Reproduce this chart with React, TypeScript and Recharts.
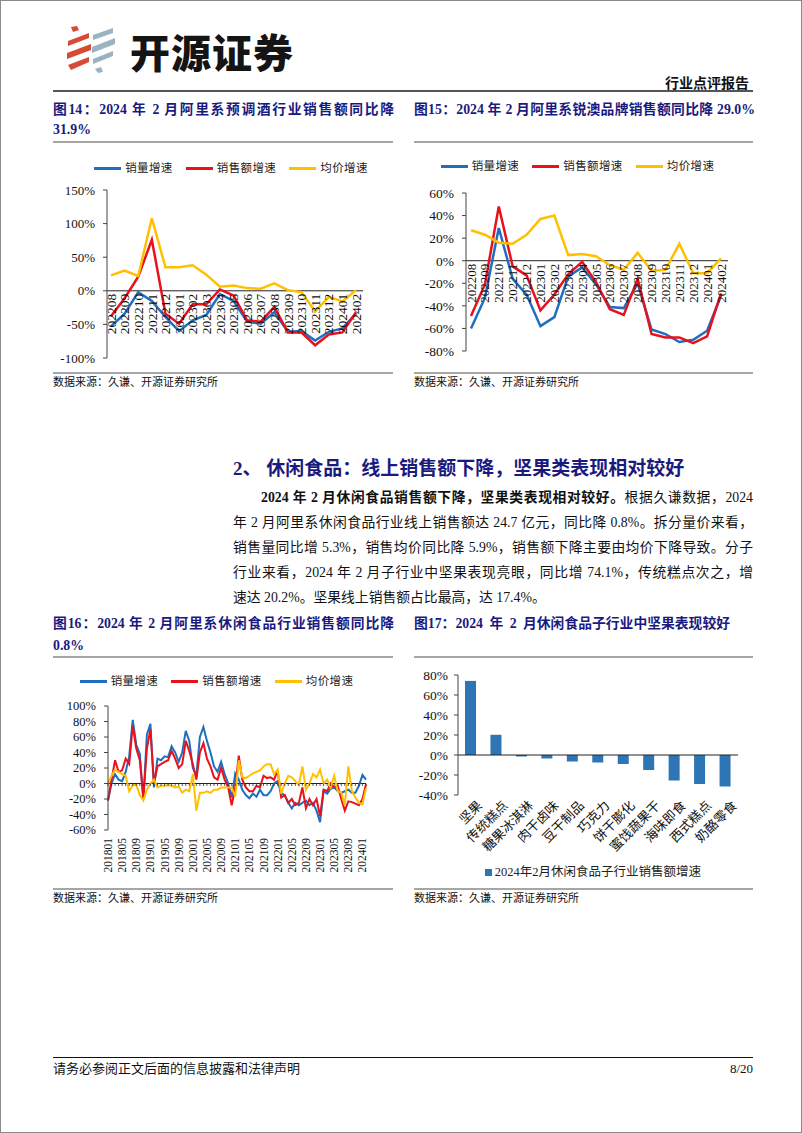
import React from 'react';
import { LineChart, Line, XAxis, YAxis, ReferenceLine, Legend, BarChart, Bar } from 'recharts';

const FONT = '"Liberation Serif", "Noto Sans CJK SC", serif';
const NAVY = '#1a1a7e';
const BLUE = '#1f6fbf';
const RED = '#e8111c';
const YELLOW = '#ffc000';
const BAR = '#2e75b6';

// ---------- Fig 14 ----------
const months14 = ['202208','202209','202210','202211','202212','202301','202302','202303','202304','202305','202306','202307','202308','202309','202310','202311','202312','202401','202402'];
const vol14 = [-53,-34,-2,-15,-39,-60,-44,-36,-5,-15,-46,-49,-32,-61,-60,-74,-61,-56,-34];
const sales14 = [-38,-11,21,76,-34,-49,-20,-20,2,-7,-44,-46,-24,-62,-62,-81,-65,-62,-32];
const price14 = [23,30,22,108,35,35,38,24,6,8,4,3,11,1,-2,-31,-9,-16,1];
const ticks14 = [-100,-50,0,50,100,150];

// ---------- Fig 15 ----------
const months15 = months14;
const vol15 = [-60,-33,29,-16,-30,-58,-50,-14,-6,-21,-41,-42,-20,-61,-65,-72,-70,-62,-31];
const sales15 = [-49,-21,48,-5,-13,-44,-30,-12,-1,-19,-43,-48,-16,-65,-68,-68,-73,-67,-29];
const price15 = [27,23,16,15,23,37,40,5,6,4,-4,-8,7,-9,-8,15,-11,-11,2];
const ticks15 = [-80,-60,-40,-20,0,20,40,60];

// ---------- Fig 16 ----------
const months16 = [
  '201801','201802','201803','201804','201805','201806','201807','201808','201809','201810','201811','201812',
  '201901','201902','201903','201904','201905','201906','201907','201908','201909','201910','201911','201912',
  '202001','202002','202003','202004','202005','202006','202007','202008','202009','202010','202011','202012',
  '202101','202102','202103','202104','202105','202106','202107','202108','202109','202110','202111','202112',
  '202201','202202','202203','202204','202205','202206','202207','202208','202209','202210','202211','202212',
  '202301','202302','202303','202304','202305','202306','202307','202308','202309','202310','202311','202312',
  '202401','202402'];
const vol16 = [-22,0,12,5,3,15,35,82,50,38,-20,63,77,-5,32,30,35,34,48,40,28,40,68,55,20,10,60,73,55,40,22,15,28,12,0,-18,13,5,-8,-15,-19,-13,-17,-8,-15,-15,-10,0,3,-12,-15,-25,-32,-25,-28,-25,-22,-28,-25,-35,-50,-10,-13,-7,-5,-10,-12,-10,-8,-12,-12,-3,11,5];
const sales16 = [-22,5,30,15,17,32,25,75,45,30,-20,45,70,0,22,25,28,30,42,32,20,25,55,42,25,5,40,52,32,22,8,5,20,5,-5,-28,-5,36,5,-5,-10,-10,-3,-5,10,7,8,5,17,-18,-15,-25,-20,-28,-25,-5,-32,-20,-28,-20,-42,-8,-10,0,-5,-3,-20,-35,-23,-24,-26,-28,-20,-1];
const price16 = [0,10,18,15,12,10,-10,-2,-2,-15,-22,-8,0,5,-5,-3,-3,-2,-3,-5,-4,-12,-8,-10,12,-35,-12,-12,-10,-12,-8,-8,-5,-5,-5,-5,-17,30,8,7,10,13,15,17,22,25,25,12,18,-13,0,10,8,3,-2,22,-8,0,12,8,18,0,5,-5,10,-10,-12,-28,22,-10,-18,-25,-27,-6];
const ticks16 = [-60,-40,-20,0,20,40,60,80,100];

// ---------- Fig 17 ----------
const cats17 = ['坚果','传统糕点','糖果冰淇淋','肉干卤味','豆干制品','巧克力','饼干膨化','蜜饯蔬果干','海味即食','西式糕点','奶酪零食'];
const vals17 = [74.1,20.2,-1.5,-3.5,-6.5,-7.5,-9.0,-15.0,-25.5,-29.0,-31.5];
const ticks17 = [-40,-20,0,20,40,60,80];

const SERIES_NAMES = ['销量增速','销售额增速','均价增速'];
const BAR_NAME = '2024年2月休闲食品子行业销售额增速';

const data14 = months14.map((m, i) => ({ m, v: vol14[i], s: sales14[i], p: price14[i] }));
const data15 = months15.map((m, i) => ({ m, v: vol15[i], s: sales15[i], p: price15[i] }));
const data16 = months16.map((m, i) => ({ m, v: vol16[i], s: sales16[i], p: price16[i] }));
const data17 = cats17.map((c, i) => ({ c, val: vals17[i] }));

const pct = (v: number) => `${v}%`;

type Geo = { W: number; H: number; legendH: number; mTop: number; mBottom: number; mRight: number; yW: number; xH: number; min: number; max: number };
const g14: Geo = { W: 340, H: 220, legendH: 39, mTop: 0, mBottom: 12, mRight: 30, yW: 54, xH: 1, min: -100, max: 150 };
const g15: Geo = { W: 340, H: 220, legendH: 42, mTop: 0, mBottom: 19, mRight: 26, yW: 52, xH: 1, min: -80, max: 60 };
const g16: Geo = { W: 340, H: 215, legendH: 40, mTop: 0, mBottom: 11, mRight: 27, yW: 55, xH: 40, min: -60, max: 100 };

const plotTop = (g: Geo) => g.mTop + g.legendH;
const plotBottom = (g: Geo) => g.H - g.mBottom - g.xH;
const zeroOf = (g: Geo) => plotTop(g) + (plotBottom(g) - plotTop(g)) * g.max / (g.max - g.min);

const orderOf = (name: string) => {
  const i = SERIES_NAMES.indexOf(name);
  return i < 0 ? 99 : i;
};

const LineLegend = ({ payload, height, padTop, padLeft }: any) => {
  const items = [...(payload || [])].sort((a: any, b: any) => orderOf(a.value) - orderOf(b.value));
  return (
    <div style={{ height, boxSizing: 'border-box', paddingTop: padTop, paddingLeft: padLeft, display: 'flex', justifyContent: 'center', fontFamily: FONT, fontSize: 11.5, color: '#222' }}>
      {items.map((p: any) => (
        <div key={p.value} style={{ display: 'flex', alignItems: 'center', height: 12, marginRight: 13 }}>
          <span style={{ display: 'inline-block', width: 27, height: 3, background: p.color, marginRight: 4 }} />
          <span style={{ letterSpacing: 0.4, lineHeight: '12px' }}>{p.value}</span>
        </div>
      ))}
    </div>
  );
};

const makeZeroTick = (g: Geo, fs: number) => (props: any) => {
  const { x, payload } = props;
  const z = zeroOf(g) + 3;
  return (
    <text x={x} y={z} transform={`rotate(-90, ${x}, ${z})`} textAnchor="end" dy="0.35em" fontSize={fs} fontFamily={FONT} fill="#111">
      {payload.value}
    </text>
  );
};

const Tick16 = (props: any) => {
  const { x, payload, index } = props;
  const z = zeroOf(g16);
  const yb = plotBottom(g16) + 8;
  return (
    <g>
      <line x1={x} x2={x} y1={z} y2={z + 2.5} stroke="#333" strokeWidth={0.8} />
      {index % 4 === 0 && (
        <text x={x} y={yb} transform={`rotate(-90, ${x}, ${yb})`} textAnchor="end" dy="0.35em" fontSize={11.5} fontFamily={FONT} fill="#111">
          {payload.value}
        </text>
      )}
    </g>
  );
};

const P17_BOTTOM = 129;
const Tick17 = (props: any) => {
  const { x, payload } = props;
  const ax = x + 5;
  const ay = P17_BOTTOM + 4;
  return (
    <text x={ax} y={ay} transform={`rotate(-45, ${ax}, ${ay})`} textAnchor="end" dy="0.8em" fontSize={13} fontFamily={FONT} fill="#111">
      {payload.value}
    </text>
  );
};

const yTick = (fs: number) => ({ fontSize: fs, fill: '#111', fontFamily: FONT });

const ThreeLine = ({ data, g, ticks, fs, xfs, padX, legendPad, sw }: any) => (
  <LineChart width={g.W} height={g.H} data={data} margin={{ top: g.mTop, right: g.mRight, bottom: g.mBottom, left: 0 }}>
    <Legend verticalAlign="top" align="center" wrapperStyle={{ left: 0, width: g.W }}
      content={(p: any) => <LineLegend payload={p.payload} height={g.legendH} padTop={legendPad[0]} padLeft={legendPad[1]} />} />
    <XAxis dataKey="m" height={g.xH} axisLine={false} tickLine={false} interval={0} padding={padX} tick={makeZeroTick(g, xfs)} />
    <YAxis width={g.yW} domain={[g.min, g.max]} ticks={ticks} interval={0} tickFormatter={pct} tick={yTick(fs)}
      tickSize={4} tickMargin={8} axisLine={{ stroke: '#444' }} tickLine={{ stroke: '#444' }} />
    <ReferenceLine y={0} stroke="#222" strokeWidth={1} />
    <Line type="linear" dataKey="v" name={SERIES_NAMES[0]} stroke={BLUE} strokeWidth={sw} dot={false} isAnimationActive={false} />
    <Line type="linear" dataKey="s" name={SERIES_NAMES[1]} stroke={RED} strokeWidth={sw} dot={false} isAnimationActive={false} />
    <Line type="linear" dataKey="p" name={SERIES_NAMES[2]} stroke={YELLOW} strokeWidth={sw} dot={false} isAnimationActive={false} />
  </LineChart>
);

const abs = (x: number, y: number, extra: any = {}) => ({ position: 'absolute' as const, left: x, top: y, ...extra });

const Logo = () => (
  <svg width={60} height={50} style={abs(64, 24)} viewBox="0 0 60 50">
    <g fill="#d64a36">
      <polygon points="6,2 12,1 14,5 8,7" />
      <polygon points="3,16 24,8 24,13 3,21" />
      <polygon points="2,28 26,19 26,25 2,34" />
      <polygon points="3,40 24,32 24,37 6,45" />
    </g>
    <g fill="#9ab3c2">
      <polygon points="28,10 48,3 48,8 28,15" />
      <polygon points="27,22 50,13 50,19 27,28" />
      <polygon points="28,34 48,26 48,31 28,39" />
      <polygon points="30,44 36,42 38,47 33,48" />
    </g>
  </svg>
);

const Rule = ({ x, y, w, h, c }: any) => <div style={abs(x, y, { width: w, height: h, background: c })} />;

const T = ({ x, y, size, children, w, bold, color, justify, style }: any) => (
  <div style={abs(x, y - size * 0.7, {
    width: w, fontSize: size, lineHeight: `${Math.round(size * 1.4)}px`, fontWeight: bold ? 700 : 400, color: color || '#111',
    textAlign: justify ? 'justify' : 'left', textAlignLast: justify ? 'justify' : 'auto', ...style,
  })}>{children}</div>
);

const PARA = [
  ['2024 年 2 月休闲食品销售额下降，坚果类表现相对较好。', '根据久谦数据，2024'],
  ['', '年 2 月阿里系休闲食品行业线上销售额达 24.7 亿元，同比降 0.8%。拆分量价来看，'],
  ['', '销售量同比增 5.3%，销售均价同比降 5.9%，销售额下降主要由均价下降导致。分子'],
  ['', '行业来看，2024 年 2 月子行业中坚果表现亮眼，同比增 74.1%，传统糕点次之，增'],
  ['', '速达 20.2%。坚果线上销售额占比最高，达 17.4%。'],
];

export default function App() {
  return (
    <div style={{ position: 'absolute', left: 0, top: 0, width: 802, height: 1133, background: '#fff', border: '1px solid #8a8a8a', boxSizing: 'border-box', fontFamily: FONT, overflow: 'hidden' }}>
      <Logo />
      <div style={abs(129, 22, { fontSize: 40, lineHeight: '56px', fontWeight: 900, fontFamily: '"Noto Sans CJK SC", sans-serif', color: '#141414', letterSpacing: 1 })}>开源证券</div>
      <T x={664} y={83} size={14} w={90} bold>行业点评报告</T>
      <Rule x={52} y={89} w={700} h={2} c="#555" />

      <T x={52} y={109} size={13.8} w={341} bold color={NAVY} justify>图14：2024 年 2 月阿里系预调酒行业销售额同比降</T>
      <T x={52} y={129} size={13.8} w={200} bold color={NAVY}>31.9%</T>
      <T x={413} y={109} size={13.8} w={341} bold color={NAVY} justify>图15：2024 年 2 月阿里系锐澳品牌销售额同比降 29.0%</T>
      <Rule x={52} y={140} w={340} h={2} c="#a6a6a6" />
      <Rule x={413} y={140} w={339} h={2} c="#a6a6a6" />

      <div style={abs(52, 150)}>
        <ThreeLine data={data14} g={g14} ticks={ticks14} fs={13} xfs={13.5} padX={{ left: 4, right: 7 }} legendPad={[11, 29]} sw={2.5} />
      </div>
      <div style={abs(413, 150)}>
        <ThreeLine data={data15} g={g15} ticks={ticks15} fs={13.5} xfs={13} padX={{ left: 5, right: 7 }} legendPad={[9, -4]} sw={2.5} />
      </div>

      <Rule x={52} y={371} w={340} h={2} c="#a6a6a6" />
      <Rule x={413} y={371} w={339} h={2} c="#a6a6a6" />
      <T x={52} y={382} size={11} w={300}>数据来源：久谦、开源证券研究所</T>
      <T x={413} y={382} size={11} w={300}>数据来源：久谦、开源证券研究所</T>

      <T x={232} y={467} size={19} w={520} bold color={NAVY}>2、 休闲食品：线上销售额下降，坚果类表现相对较好</T>

      {PARA.map((ln, i) => (
        <T key={i} x={i === 0 ? 260 : 232} y={497 + i * 25} size={13.8} w={i === 0 ? 492 : 520} justify={i < PARA.length - 1}>
          {ln[0] && <b>{ln[0]}</b>}{ln[1]}
        </T>
      ))}

      <T x={52} y={623} size={13.8} w={341} bold color={NAVY} justify>图16：2024 年 2 月阿里系休闲食品行业销售额同比降</T>
      <T x={52} y={645} size={13.8} w={200} bold color={NAVY}>0.8%</T>
      <T x={413} y={623} size={13.8} w={341} bold color={NAVY} style={{ wordSpacing: 3 }}>图17：2024 年 2 月休闲食品子行业中坚果表现较好</T>
      <Rule x={52} y={655} w={340} h={2} c="#a6a6a6" />
      <Rule x={413} y={655} w={339} h={2} c="#a6a6a6" />

      <div style={abs(52, 665)}>
        <LineChart width={g16.W} height={g16.H} data={data16} margin={{ top: g16.mTop, right: g16.mRight, bottom: g16.mBottom, left: 0 }}>
          <Legend verticalAlign="top" align="center" wrapperStyle={{ left: 0, width: g16.W }}
            content={(p: any) => <LineLegend payload={p.payload} height={g16.legendH} padTop={9} padLeft={0} />} />
          <XAxis dataKey="m" height={g16.xH} axisLine={false} tickLine={false} interval={0} padding={{ left: 0, right: 0 }} tick={Tick16} />
          <YAxis width={g16.yW} domain={[g16.min, g16.max]} ticks={ticks16} interval={0} tickFormatter={pct} tick={yTick(12.5)}
            tickSize={4} tickMargin={8} axisLine={{ stroke: '#444' }} tickLine={{ stroke: '#444' }} />
          <ReferenceLine y={0} stroke="#222" strokeWidth={1} />
          <Line type="linear" dataKey="v" name={SERIES_NAMES[0]} stroke={BLUE} strokeWidth={2} dot={false} isAnimationActive={false} />
          <Line type="linear" dataKey="s" name={SERIES_NAMES[1]} stroke={RED} strokeWidth={2} dot={false} isAnimationActive={false} />
          <Line type="linear" dataKey="p" name={SERIES_NAMES[2]} stroke={YELLOW} strokeWidth={2} dot={false} isAnimationActive={false} />
        </LineChart>
      </div>

      <div style={abs(413, 665)}>
        <BarChart width={340} height={225} data={data17} margin={{ top: 9, right: 16, bottom: 5, left: 0 }}>
          <Legend verticalAlign="bottom" align="center" wrapperStyle={{ left: 0, width: 340 }}
            content={(p: any) => (
              <div style={{ height: 26, boxSizing: 'border-box', paddingTop: 6, paddingLeft: 18, display: 'flex', justifyContent: 'center', fontFamily: FONT, fontSize: 12.5, color: '#222' }}>
                {(p.payload || []).map((it: any) => (
                  <div key={it.value} style={{ display: 'flex', alignItems: 'center', height: 13 }}>
                    <span style={{ display: 'inline-block', width: 7, height: 7, background: it.color, marginRight: 3 }} />
                    <span style={{ lineHeight: '13px' }}>{it.value}</span>
                  </div>
                ))}
              </div>
            )} />
          <XAxis dataKey="c" height={65} axisLine={false} tickLine={false} interval={0} tick={Tick17} />
          <YAxis width={44} domain={[-40, 80]} ticks={ticks17} interval={0} tickFormatter={pct} tick={yTick(13.5)}
            tickSize={4} tickMargin={6} axisLine={{ stroke: '#444' }} tickLine={{ stroke: '#444' }} />
          <ReferenceLine y={0} stroke="#222" strokeWidth={1} />
          <Bar dataKey="val" name={BAR_NAME} fill={BAR} barSize={11} isAnimationActive={false} />
        </BarChart>
      </div>

      <Rule x={52} y={887} w={340} h={2} c="#a6a6a6" />
      <Rule x={413} y={887} w={339} h={2} c="#a6a6a6" />
      <T x={52} y={898} size={11} w={300}>数据来源：久谦、开源证券研究所</T>
      <T x={413} y={898} size={11} w={300}>数据来源：久谦、开源证券研究所</T>

      <Rule x={52} y={1056} w={700} h={1} c="#111" />
      <T x={52} y={1068} size={13} w={400}>请务必参阅正文后面的信息披露和法律声明</T>
      <T x={652} y={1068} size={13} w={100} style={{ textAlign: 'right' }}>8/20</T>
    </div>
  );
}
